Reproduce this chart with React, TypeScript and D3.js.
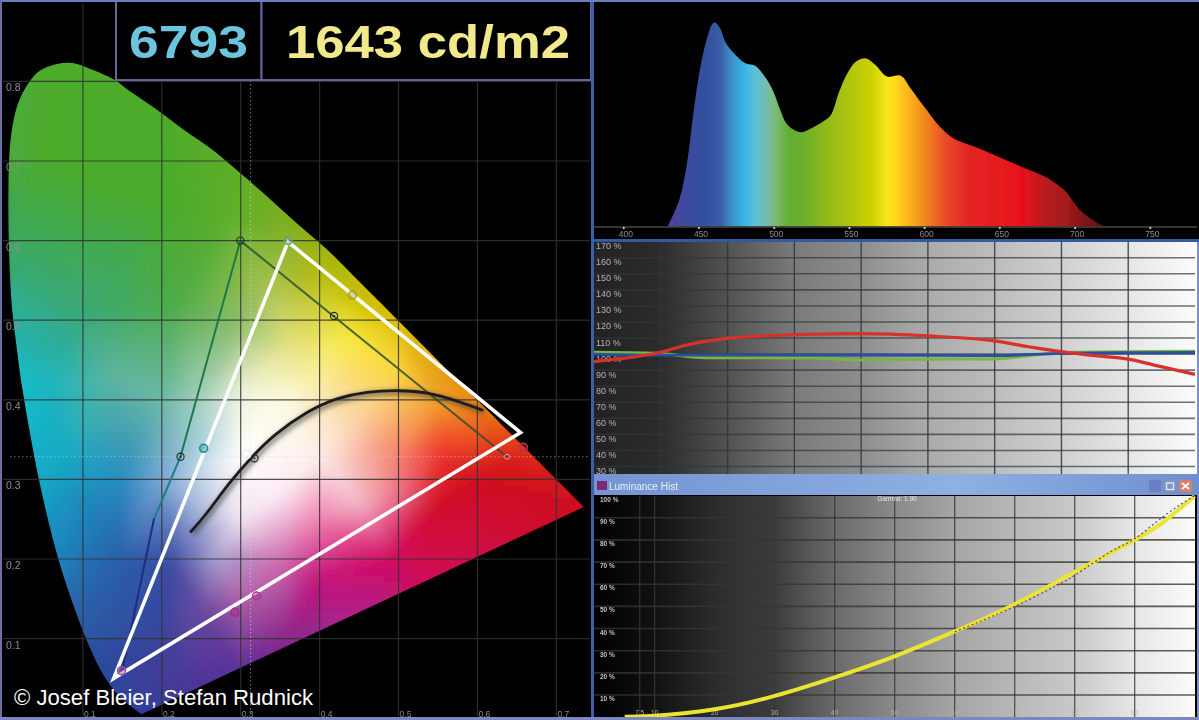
import React, { useMemo } from "react";
import * as d3 from "d3";

// ---------- CIE diagram data ----------
const spectralLocus: [number, number][] = [
  [0.1741, 0.005], [0.144, 0.0297], [0.1241, 0.0578], [0.1096, 0.0868], [0.0913, 0.1327], [0.0687, 0.2007], [0.0454, 0.295],
  [0.0235, 0.4127], [0.0165, 0.4626], [0.0094, 0.525], [0.0055, 0.651], [0.0094, 0.735], [0.021, 0.78], [0.0436, 0.812],
  [0.0674, 0.822], [0.087, 0.823], [0.111, 0.815], [0.14, 0.802], [0.1547, 0.791], [0.1929, 0.765], [0.2296, 0.738],
  [0.2658, 0.713], [0.3016, 0.683], [0.3373, 0.652], [0.3731, 0.62], [0.4087, 0.5896], [0.4441, 0.5547], [0.4788, 0.5202],
  [0.5125, 0.4866], [0.5448, 0.4544], [0.5752, 0.4242], [0.6029, 0.3965], [0.627, 0.3725], [0.6658, 0.334],
  [0.6915, 0.3083], [0.714, 0.2859], [0.7347, 0.2653],
];
const colorAnchors: [number, number, string][] = [
  [0.005, 0.6, "#3aa960"], [0.01, 0.75, "#4dab3a"], [0.07, 0.83, "#4dab2c"], [0.2, 0.78, "#4dab2a"], [0.3, 0.7, "#60ae28"],
  [0.38, 0.62, "#86ae1c"], [0.5, 0.5, "#d8bc05"], [0.6, 0.4, "#e88a14"], [0.68, 0.32, "#d81e18"], [0.74, 0.265, "#cc1020"],
  [0.55, 0.18, "#cf0a50"], [0.45, 0.13, "#b0208a"], [0.3, 0.06, "#5c2f98"], [0.17, 0.0, "#2e3e98"], [0.12, 0.06, "#2a4a9c"],
  [0.09, 0.13, "#2a60a8"], [0.06, 0.2, "#1c86bc"], [0.04, 0.3, "#14aac8"], [0.02, 0.42, "#14bcc8"], [0.01, 0.5, "#2ab0a0"],
  [0.05, 0.7, "#4dab2c"], [0.12, 0.68, "#4aab2a"], [0.2, 0.65, "#4aab2a"], [0.28, 0.63, "#5aae2a"],
  [0.4, 0.56, "#b3ba0c"], [0.45, 0.52, "#d3c400"], [0.33, 0.55, "#a0c050"], [0.3, 0.5, "#8cbd6a"],
  [0.22, 0.52, "#4fac48"], [0.36, 0.47, "#e3e080"], [0.44, 0.48, "#f8e83c"], [0.5, 0.44, "#fad63a"], [0.55, 0.4, "#f4a02a"],
  [0.6, 0.36, "#ee5a20"], [0.64, 0.33, "#e0201e"], [0.6, 0.3, "#cf1020"], [0.55, 0.27, "#d21026"],
  [0.5, 0.28, "#ea6e8a"], [0.45, 0.27, "#f3b7c8"], [0.4, 0.174, "#c5127a"], [0.49, 0.2, "#d20a60"], [0.35, 0.1, "#8a2a8c"],
  [0.22, 0.06, "#4a3a98"], [0.15, 0.2, "#2a5eaa"], [0.11, 0.26, "#1e82b8"], [0.08, 0.33, "#18aac4"], [0.06, 0.42, "#1eb4bc"],
  [0.1, 0.5, "#3aa97c"], [0.14, 0.43, "#5fb5a0"], [0.2, 0.4, "#6cb8a6"], [0.25, 0.4, "#a8d0c0"], [0.25, 0.35, "#a8d0d8"],
  [0.266, 0.32, "#dde9f0"], [0.3, 0.33, "#ffffff"], [0.3, 0.41, "#eef2dc"], [0.35, 0.4, "#fbfbe0"], [0.4, 0.44, "#f8ec90"],
  [0.45, 0.38, "#fbd3a0"], [0.4, 0.33, "#fdeeea"], [0.35, 0.28, "#fbeaf4"], [0.3, 0.25, "#f2e4f0"], [0.27, 0.2, "#a8a0d0"],
  [0.21, 0.2, "#3d4da4"], [0.2, 0.3, "#7aa8d4"], [0.15, 0.3, "#2a8cc0"], [0.3, 0.15, "#b060a8"], [0.35, 0.2, "#d070b0"],
  [0.4, 0.25, "#f080b0"], [0.5, 0.33, "#f4806a"], [0.55, 0.34, "#f04030"], [0.25, 0.14, "#6a4aa0"], [0.2, 0.11, "#38449c"],
];
const planckXY: [number, number][] = [
  [0.237, 0.2345], [0.257, 0.2578], [0.286, 0.2955], [0.3151, 0.3288], [0.344, 0.3562], [0.383, 0.3834], [0.422, 0.4011],
  [0.46, 0.4094], [0.4993, 0.4114], [0.538, 0.4081], [0.5767, 0.3976], [0.606, 0.3872],
];
const measuredGamut: [number, number][] = [[0.36, 0.5985], [0.6547, 0.3588], [0.139, 0.05]];
const referenceGreen: [number, number] = [0.2995, 0.6];
const referenceRed: [number, number] = [0.6375, 0.3285];
const referenceBlue: [number, number] = [0.15, 0.06];
const rings: [number, number, string][] = [
  [0.253, 0.339, "#1f8f8f"], [0.4417, 0.5316, "#a8a030"], [0.2928, 0.133, "#a02c88"], [0.32, 0.1535, "#a83c90"],
  [0.149, 0.0597, "#a050a0"], [0.6584, 0.3403, "#c03040"], [0.36, 0.6, "#70a070"],
];
const dotRings: [number, number][] = [[0.2995, 0.6], [0.2237, 0.3285], [0.4183, 0.5053], [0.3175, 0.3265]];
const whiteRing: [number, number] = [0.3078, 0.3315];
const cieTicks = [0.1, 0.2, 0.3, 0.4, 0.5, 0.6, 0.7];
const cieTicksY = [0.1, 0.2, 0.3, 0.4, 0.5, 0.6, 0.7, 0.8];

// ---------- Spectrum ----------
const spectrum: [number, number][] = [
  [429.2, 0], [436.9, 0.131], [442, 0.31], [446, 0.539], [449.8, 0.735], [455, 0.915], [458.9, 0.993], [460.7, 1], [464, 0.972],
  [467.9, 0.899], [473, 0.85], [480.8, 0.8], [487.3, 0.788], [493.7, 0.735], [498.9, 0.67], [504, 0.572], [507.9, 0.507],
  [513, 0.474], [518.3, 0.462], [524.7, 0.482], [532.5, 0.515], [537.7, 0.547], [542.8, 0.654], [548, 0.743], [554.4, 0.809],
  [560.9, 0.824], [567.3, 0.792], [575, 0.735], [584.1, 0.739], [590.6, 0.678], [599.6, 0.588], [610, 0.49], [619, 0.433],
  [635.8, 0.384], [651.3, 0.335], [666.8, 0.286], [679.7, 0.245], [692.6, 0.18], [703, 0.082], [713.3, 0.025], [719.7, 0],
];
const spectrumStops: [number, string][] = [
  [430, "#5a3d96"], [440, "#3c4a9c"], [455, "#33519f"], [465, "#3a60a8"], [470, "#3e86c0"], [480, "#35b5e8"], [487, "#5cc0d8"],
  [495, "#74bcae"], [500, "#7dbb7a"], [510, "#62ae34"], [520, "#6cb02c"], [535, "#90bb1a"], [550, "#b0c40e"], [565, "#cfd200"],
  [575, "#f5e61a"], [580, "#ffd91c"], [590, "#fbb01e"], [600, "#f0881e"], [615, "#e8462a"], [630, "#e32424"], [650, "#e51c1e"],
  [665, "#e8101a"], [680, "#b81c20"], [695, "#a01a1a"], [720, "#5a0f10"],
];
const wavelengthTicks = [400, 450, 500, 550, 600, 650, 700, 750];

// ---------- RGB balance ----------
const balanceTicks = [170, 160, 150, 140, 130, 120, 110, 100, 90, 80, 70, 60, 50, 40, 30];
const balanceCols = [20, 30, 40, 50, 60, 70, 80, 90];
const balanceRed: [number, number][] = [
  [10, 95.3], [15.2, 97.8], [19.3, 100.5], [23.9, 105.7], [29.8, 109.8], [35.6, 111.3], [41.4, 112.3], [50.1, 112.7], [60, 111.3],
  [69.9, 108.2], [75.1, 104.6], [80, 101.5], [85, 99], [90, 96.9], [94.9, 92.2], [100, 87.4],
];
const balanceGreen: [number, number][] = [
  [10, 101.1], [19.3, 100.5], [26.8, 97.8], [43, 97.6], [50, 96.3], [60, 96.8], [70, 97], [75, 99], [80, 101], [90, 101.5], [100, 101.7],
];
const balanceBlue: [number, number][] = [
  [10, 100], [19.3, 99.4], [50, 99.4], [70, 99], [80, 100.5], [90, 100.9], [100, 101],
];
const balanceBg: [number, string][] = [
  [10, "#222222"], [20, "#2c2c2c"], [30, "#525252"], [40, "#7a7a7a"], [50, "#8e8e8e"], [60, "#ababab"], [70, "#bcbcbc"],
  [80, "#d0d0d0"], [90, "#e6e6e6"], [100, "#fbfbfb"],
];

// ---------- Luminance ----------
const lumTicks = [100, 90, 80, 70, 60, 50, 40, 30, 20, 10];
const lumCols = [7.5, 10, 30, 40, 50, 60, 70, 80, 90];
const lumColLabels = ["7.5", "10", "20", "30", "40", "50", "60", "70", "80", "90"];
const lumLabelPos = [7.5, 10, 20, 30, 40, 50, 60, 70, 80, 90];
const lumCurve: [number, number][] = [
  [5, 0.2], [10, 0.7], [20, 3.6], [30, 9.6], [40, 18], [50, 27.5], [60, 38.7], [70, 51], [80, 65.5], [90, 80], [95, 88.5], [100, 99.8],
];
const lumRef: [number, number][] = [
  [60, 38.5], [70, 50], [76.6, 58.9], [80, 64], [86, 74.7], [90, 80.5], [95, 91], [100, 100],
];
const lumBg: [number, string][] = [
  [0, "#000000"], [10, "#111111"], [20, "#2c2c2c"], [30, "#3c3c3c"], [40, "#6a6a6a"], [50, "#8a8a8a"], [60, "#a5a5a5"],
  [70, "#b8b8b8"], [80, "#c9c9c9"], [90, "#e6e6e6"], [100, "#fbfbfb"],
];

const SANS = "'Liberation Sans', Arial, sans-serif";

export default function App() {
  // Scales
  const cx = d3.scaleLinear().domain([0, 1]).range([4, 793]);
  const cy = d3.scaleLinear().domain([0, 1]).range([718.2, -77.8]);
  const sx = d3.scaleLinear().domain([400, 750]).range([623.8, 1150.3]);
  const sy = d3.scaleLinear().domain([0, 1]).range([226.5, 22.5]);
  const bx = d3.scaleLinear().domain([10, 100]).range([594, 1195]);
  const by = d3.scaleLinear().domain([100, 30]).range([354.1, 466.5]);
  const lx = d3.scaleLinear().domain([0, 100]).range([594.7, 1194.7]);
  const ly = d3.scaleLinear().domain([0, 100]).range([717.2, 495.6]);

  const locusPath =
    d3.line<[number, number]>().x((d) => cx(d[0])).y((d) => cy(d[1])).curve(d3.curveCatmullRom.alpha(0.5))(spectralLocus) + "Z";
  const planckPath = d3.line<[number, number]>().x((d) => cx(d[0])).y((d) => cy(d[1])).curve(d3.curveNatural)(planckXY)!;
  const spectrumPath = d3
    .area<[number, number]>()
    .x((d) => sx(d[0]))
    .y0(sy(0))
    .y1((d) => sy(d[1]))
    .curve(d3.curveCatmullRom.alpha(0.5))(spectrum)!;
  const balLine = d3.line<[number, number]>().x((d) => bx(d[0])).y((d) => by(d[1])).curve(d3.curveMonotoneX);
  const lumLine = d3.line<[number, number]>().x((d) => lx(d[0])).y((d) => ly(d[1])).curve(d3.curveNatural);

  // Colour field: barycentric interpolation over a triangulation of the colours
  const cells = useMemo(() => {
    const step = 6;
    const out: { x: number; y: number; c: string }[] = [];
    const pts = colorAnchors.map((a) => [a[0], a[1]] as [number, number]);
    const rgbs = colorAnchors.map((a) => d3.rgb(a[2]));
    const del = d3.Delaunay.from(pts);
    const tris: [number, number, number][] = [];
    for (let i = 0; i < del.triangles.length; i += 3) tris.push([del.triangles[i], del.triangles[i + 1], del.triangles[i + 2]]);
    for (let px = 0; px < 600; px += step) {
      for (let py = 48; py < 724; py += step) {
        const vx = cx.invert(px + step / 2);
        const vy = cy.invert(py + step / 2);
        let col: string | null = null;
        for (const [a, b, c] of tris) {
          const [ax, ay] = pts[a], [bx2, by2] = pts[b], [cx2, cy2] = pts[c];
          const den = (by2 - cy2) * (ax - cx2) + (cx2 - bx2) * (ay - cy2);
          const u = ((by2 - cy2) * (vx - cx2) + (cx2 - bx2) * (vy - cy2)) / den;
          const v = ((cy2 - ay) * (vx - cx2) + (ax - cx2) * (vy - cy2)) / den;
          const w = 1 - u - v;
          if (u >= -1e-6 && v >= -1e-6 && w >= -1e-6) {
            const A = rgbs[a], B = rgbs[b], C = rgbs[c];
            col = `rgb(${Math.round(A.r * u + B.r * v + C.r * w)},${Math.round(A.g * u + B.g * v + C.g * w)},${Math.round(A.b * u + B.b * v + C.b * w)})`;
            break;
          }
        }
        if (!col) col = rgbs[del.find(vx, vy)].formatRgb();
        out.push({ x: px, y: py, c: col });
      }
    }
    return out;
  }, []);

  const p = (d: [number, number]) => [cx(d[0]), cy(d[1])];
  const [gw, rw, bw] = measuredGamut.map(p);
  const [rg, rr, rb] = [referenceGreen, referenceRed, referenceBlue].map(p);

  return (
    <svg width={1199} height={720} viewBox="0 0 1199 720" style={{ position: "absolute", left: 0, top: 0, background: "#000" }} fontFamily={SANS}>
      <defs>
        <clipPath id="locus"><path d={locusPath} /></clipPath>
        <filter id="fieldBlur" x="-5%" y="-5%" width="110%" height="110%"><feGaussianBlur stdDeviation="6" /></filter>
        <filter id="soft" x="-20%" y="-20%" width="140%" height="140%"><feGaussianBlur stdDeviation="0.45" /></filter>
        <filter id="softLine" filterUnits="userSpaceOnUse" x="0" y="0" width="1199" height="720"><feGaussianBlur stdDeviation="0.5" /></filter>
        <filter id="shadow" filterUnits="userSpaceOnUse" x="0" y="0" width="1199" height="720"><feGaussianBlur stdDeviation="2.5" /></filter>
        <linearGradient id="specGrad" gradientUnits="userSpaceOnUse" x1={sx(430)} x2={sx(720)} y1={0} y2={0}>
          {spectrumStops.map(([w, c]) => <stop key={w} offset={(w - 430) / 290} stopColor={c} />)}
        </linearGradient>
        <linearGradient id="balBg" gradientUnits="userSpaceOnUse" x1={bx(10)} x2={bx(100)} y1={0} y2={0}>
          {balanceBg.map(([v, c]) => <stop key={v} offset={(v - 10) / 90} stopColor={c} />)}
        </linearGradient>
        <linearGradient id="lumBg" gradientUnits="userSpaceOnUse" x1={lx(0)} x2={lx(100)} y1={0} y2={0}>
          {lumBg.map(([v, c]) => <stop key={v} offset={v / 100} stopColor={c} />)}
        </linearGradient>
        <linearGradient id="titleBar" x1="0" x2="1" y1="0" y2="0">
          <stop offset="0" stopColor="#7393d2" />
          <stop offset="0.6" stopColor="#8fb0e2" />
          <stop offset="1" stopColor="#6f8fd0" />
        </linearGradient>
      </defs>

      {/* CIE diagram */}
      <g clipPath="url(#locus)">
        <g filter="url(#fieldBlur)">
          {cells.map((k, i) => <rect key={i} x={k.x} y={k.y} width={6.5} height={6.5} fill={k.c} />)}
        </g>
      </g>

      {cieTicks.map((t) => (
        <line key={t} x1={cx(t)} x2={cx(t)} y1={3} y2={716} stroke="#333" strokeOpacity={0.85} strokeWidth={1.2} />
      ))}
      {cieTicksY.map((t) => (
        <line key={t} x1={3} x2={590} y1={cy(t)} y2={cy(t)} stroke="#333" strokeOpacity={0.85} strokeWidth={1.2} />
      ))}
      <line x1={10} x2={590} y1={456.7} y2={456.7} stroke="#cfcfcf" strokeOpacity={0.55} strokeDasharray="1.5 2.5" />
      <line x1={250.6} x2={250.6} y1={80} y2={716} stroke="#dedede" strokeOpacity={0.55} strokeDasharray="1.5 2.5" />

      <g filter="url(#soft)" fill="#8f8f8f" fontSize={10.5}>
        {cieTicksY.map((t) => (
          <text key={t} x={6} y={cy(t) + 10}>{t.toFixed(1)}</text>
        ))}
      </g>
      <g filter="url(#soft)" fill="#8a8a8a" fontSize={8.5} textAnchor="middle">
        {cieTicks.map((t) => (
          <text key={t} x={cx(t) + 7} y={716.5}>{t.toFixed(1)}</text>
        ))}
      </g>

      {/* Reference gamut */}
      <g filter="url(#softLine)" fill="none" strokeLinecap="round">
        <line x1={rg[0]} y1={rg[1]} x2={rr[0]} y2={rr[1]} stroke="#2c5030" strokeOpacity={0.85} strokeWidth={2} />
        <line x1={rg[0]} y1={rg[1]} x2={cx(0.2237)} y2={cy(0.3285)} stroke="#1c7a48" strokeWidth={2} />
        <line x1={cx(0.2237)} y1={cy(0.3285)} x2={cx(0.19)} y2={cy(0.25)} stroke="#1f7f86" strokeWidth={2} />
        <line x1={cx(0.19)} y1={cy(0.25)} x2={rb[0]} y2={rb[1]} stroke="#1c2f80" strokeWidth={2} />
      </g>

      {/* Black body curve */}
      <path d={planckPath} fill="none" stroke="#333" strokeOpacity={0.6} strokeWidth={5} filter="url(#shadow)" transform="translate(2,2)" />
      <path d={planckPath} fill="none" stroke="#1c1c1c" strokeWidth={2.8} strokeLinecap="round" filter="url(#softLine)" />

      {/* Measured gamut */}
      <g filter="url(#softLine)">
        <polygon points={[gw, rw, bw].map((d) => d.join(",")).join(" ")} fill="none" stroke="#ffffff" strokeWidth={3.6} strokeLinejoin="miter" />
        {rings.map(([a, b, c], i) => (
          <circle key={i} cx={cx(a)} cy={cy(b)} r={4} fill={c} fillOpacity={0.45} stroke={c} strokeWidth={1.5} />
        ))}
        {dotRings.map((d, i) => (
          <g key={i}>
            <circle cx={cx(d[0])} cy={cy(d[1])} r={3.6} fill="none" stroke="#1d2a22" strokeWidth={1.1} />
            <circle cx={cx(d[0])} cy={cy(d[1])} r={0.9} fill="#1d2a22" />
          </g>
        ))}
        <circle cx={cx(whiteRing[0])} cy={cy(whiteRing[1])} r={4} fill="none" stroke="#f0f0f0" strokeWidth={1.6} />
        <circle cx={rr[0]} cy={rr[1]} r={2.5} fill="none" stroke="#d8a0a0" strokeWidth={1} />
      </g>

      {/* Header boxes */}
      <rect x={116} y={1} width={145.5} height={79} fill="#000" stroke="#66669a" strokeWidth={2} />
      <rect x={261.5} y={1} width={329.5} height={79} fill="#000" stroke="#66669a" strokeWidth={2} />
      <g filter="url(#soft)" fontWeight={700} fontSize={47}>
        <text x={129} y={58} fill="#6cc5de" textLength={119} lengthAdjust="spacingAndGlyphs">6793</text>
        <text x={286} y={58} fill="#f2e98a" textLength={284} lengthAdjust="spacingAndGlyphs">1643 cd/m2</text>
      </g>
      <text x={14} y={705} fill="#fff" fontSize={21.5} textLength={299} lengthAdjust="spacingAndGlyphs">© Josef Bleier, Stefan Rudnick</text>

      {/* Spectrum panel */}
      <rect x={593} y={2} width={606} height={238} fill="#000" />
      <path d={spectrumPath} fill="url(#specGrad)" filter="url(#softLine)" />
      <line x1={594} x2={1197} y1={227} y2={227} stroke="#4a4440" strokeWidth={1.5} />
      {wavelengthTicks.map((t) => (
        <g key={t}>
          <circle cx={sx(t)} cy={228} r={1.1} fill="#dcdcdc" />
          <text x={sx(t) + 2} y={237} fill="#8e8e8e" fontSize={8.5} textAnchor="middle" filter="url(#soft)">{t}</text>
        </g>
      ))}

      {/* RGB balance panel */}
      <rect x={594} y={242} width={605} height={233} fill="url(#balBg)" />
      {balanceTicks.slice(1).map((t) => (
        <line key={t} x1={594} x2={1195} y1={by(t)} y2={by(t)} stroke="#30383a" strokeOpacity={0.7} strokeWidth={1.6} />
      ))}
      {balanceCols.map((t) => (
        <line key={t} x1={bx(t)} x2={bx(t)} y1={242} y2={475} stroke="#2c3838" strokeOpacity={0.85} strokeWidth={1.4} />
      ))}
      <g fill="#b4b4b4" fontSize={9} filter="url(#soft)">
        {balanceTicks.map((t) => (
          <text key={t} x={596} y={by(t) + 7.5}>{t} %</text>
        ))}
      </g>
      <g fill="none" filter="url(#softLine)">
        <path d={balLine(balanceGreen)!} stroke="#78b63c" strokeWidth={3} />
        <path d={balLine(balanceBlue)!} stroke="#2a4fa2" strokeWidth={2.8} />
        <path d={balLine(balanceRed)!} stroke="#d6302c" strokeWidth={3.2} />
      </g>

      {/* Luminance panel */}
      <rect x={594} y={496} width={601} height={222} fill="url(#lumBg)" />
      {lumTicks.slice(1).map((t) => (
        <line key={t} x1={594} x2={1195} y1={ly(t)} y2={ly(t)} stroke="#38362a" strokeOpacity={0.8} strokeWidth={1.6} />
      ))}
      {lumCols.map((t) => (
        <line key={t} x1={lx(t)} x2={lx(t)} y1={496} y2={717} stroke="#38362a" strokeOpacity={0.8} strokeWidth={1.3} />
      ))}
      <g fill="#c4c4c4" fontSize={6.5} fontWeight={700} filter="url(#soft)">
        {lumTicks.map((t) => (
          <text key={t} x={600} y={ly(t) + 6}>{t} %</text>
        ))}
      </g>
      <text x={897} y={501} fill="#e8e8e8" fontSize={6.5} textAnchor="middle" filter="url(#soft)">Gamma: 1.90</text>
      <g fill="#b0b0b0" fontSize={6.5} textAnchor="middle" filter="url(#soft)">
        {lumLabelPos.map((t, i) => (
          <text key={t} x={lx(t)} y={715}>{lumColLabels[i]}</text>
        ))}
      </g>
      <g fill="none">
        <path d={lumLine(lumCurve)!} stroke="#ece432" strokeWidth={4} filter="url(#softLine)" />
        <path d={lumLine(lumRef)!} stroke="#5a4a78" strokeWidth={1.2} strokeDasharray="2 2.5" />
      </g>

      {/* Title bar */}
      <rect x={593} y={474} width={606} height={21} fill="url(#titleBar)" />
      <rect x={597} y={481} width={10} height={9} fill="#7a2a78" />
      <text x={609} y={489.5} fill="#e8eefa" fontSize={10} filter="url(#soft)">Luminance Hist</text>
      <rect x={1149} y={480} width={12} height={12} rx={2} fill="#6a7fc4" />
      <rect x={1164} y={480} width={12} height={12} rx={2} fill="#7f95c8" />
      <rect x={1166.5} y={483} width={7} height={6.5} fill="none" stroke="#e8ecf8" strokeWidth={1.3} />
      <rect x={1179} y={480} width={13} height={12} rx={2} fill="#d8806e" />
      <path d="M1182 483 L1189 489 M1189 483 L1182 489" stroke="#fff" strokeWidth={1.8} />

      {/* Frames */}
      <line x1={592.5} x2={592.5} y1={0} y2={720} stroke="#3d5fa8" strokeWidth={3} />
      <line x1={593} x2={1199} y1={240.5} y2={240.5} stroke="#3358a6" strokeWidth={3} />
      <line x1={1198} x2={1198} y1={242} y2={474} stroke="#7f8fc4" strokeWidth={2} />
      <line x1={1198} x2={1198} y1={495} y2={720} stroke="#7f8fc4" strokeWidth={2} />
      <line x1={0} x2={1199} y1={1} y2={1} stroke="#6d7dbd" strokeWidth={2} />
      <line x1={1} x2={1} y1={0} y2={720} stroke="#6f6fa8" strokeWidth={2} />
      <line x1={0} x2={1199} y1={718.5} y2={718.5} stroke="#7f85bf" strokeWidth={3} />
    </svg>
  );
}
